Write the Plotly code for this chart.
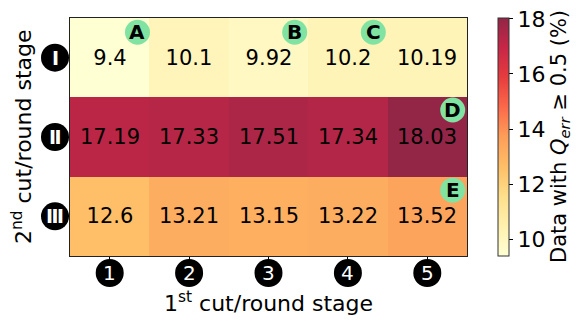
import plotly.graph_objects as go
import plotly.colors as pc

# data
first_stage = ["1", "2", "3", "4", "5"]
second_stage = ["Ⅰ", "Ⅱ", "Ⅲ"]
values_I = [9.4, 10.1, 9.92, 10.2, 10.19]
values_II = [17.19, 17.33, 17.51, 17.34, 18.03]
values_III = [12.6, 13.21, 13.15, 13.22, 13.52]
z = [values_I, values_II, values_III]

# marker labels (letter, column, row offset position)
mark_labels = ["A", "B", "C", "D", "E"]
mark_x = [0.35, 2.33, 3.32, 4.32, 4.32]
mark_y = [-0.32, -0.32, -0.32, 0.66, 1.67]

# YlOrRd blended with white at alpha 0.85 (like matplotlib alpha)
alpha = 0.85
base = pc.sequential.YlOrRd
scale = []
for i, c in enumerate(base):
    if c.startswith("#"):
        r, g, b = pc.hex_to_rgb(c)
    else:
        r, g, b = pc.unlabel_rgb(c)
    r = round(alpha * r + (1 - alpha) * 255)
    g = round(alpha * g + (1 - alpha) * 255)
    b = round(alpha * b + (1 - alpha) * 255)
    scale.append([i / (len(base) - 1), f"rgb({r},{g},{b})"])

FONT = "DejaVu Sans"

fig = go.Figure(go.Heatmap(
    z=z,
    x=list(range(len(first_stage))),
    y=list(range(len(second_stage))),
    colorscale=scale,
    zmin=9.4, zmax=18.03,
    text=[[str(v) for v in row] for row in z],
    texttemplate="%{text}",
    textfont=dict(family=FONT, size=21, color="black"),
    hoverinfo="skip",
    colorbar=dict(
        x=1.078, xanchor="left", xpad=0,
        y=0.5, len=1.0, lenmode="fraction", ypad=0,
        thickness=11,
        outlinecolor="#333", outlinewidth=1,
        ticks="outside", ticklen=4, tickcolor="black",
        tickvals=[10, 12, 14, 16, 18],
        ticklabeloverflow="allow",
        tickfont=dict(family=FONT, size=22, color="black"),
    ),
))

# page has an 8px body margin, so the figure is shrunk and shifted
fig.update_layout(
    width=573, height=316,
    margin=dict(l=62, r=114, t=10, b=68),
    plot_bgcolor="white", paper_bgcolor="white",
    showlegend=False,
)

fig.update_xaxes(
    range=[-0.5, 4.5],
    tickvals=list(range(len(first_stage))),
    showticklabels=False, automargin=False,
    ticks="outside", ticklen=4, tickcolor="black",
    showgrid=False, zeroline=False,
    showline=True, linecolor="#222", linewidth=1, mirror=True,
)
fig.update_yaxes(
    range=[2.5, -0.5],
    tickvals=list(range(len(second_stage))),
    showticklabels=False, automargin=False,
    ticks="outside", ticklen=4, tickcolor="black",
    showgrid=False, zeroline=False,
    showline=True, linecolor="#222", linewidth=1, mirror=True,
)

# axis titles
fig.add_annotation(x=0.5, y=0, xref="paper", yref="paper", yshift=-46,
                   xanchor="center", yanchor="middle", showarrow=False,
                   text="1<sup>st</sup> cut/round stage",
                   font=dict(family=FONT, size=22, color="black"))
fig.add_annotation(x=0, y=0.5, xref="paper", yref="paper", xshift=-48,
                   xanchor="center", yanchor="middle", showarrow=False,
                   textangle=-90,
                   text="2<sup>nd</sup> cut/round stage",
                   font=dict(family=FONT, size=22, color="black"))
fig.add_annotation(x=1, y=0.5, xref="paper", yref="paper", xshift=93,
                   xanchor="center", yanchor="middle", showarrow=False,
                   textangle=-90,
                   text="Data with <i>Q</i><sub><i>err</i></sub> ≥ 0.5 (%)",
                   font=dict(family=FONT, size=21, color="black"))

# black circled tick labels on x axis
for i, lab in enumerate(first_stage):
    fig.add_shape(type="circle", xref="x", yref="paper",
                  xsizemode="pixel", ysizemode="pixel",
                  xanchor=i, yanchor=0,
                  x0=-14, x1=14, y0=-31, y1=-3,
                  fillcolor="black", line=dict(color="black", width=0))
    fig.add_annotation(x=i, y=0, xref="x", yref="paper", yshift=-17,
                       xanchor="center", yanchor="middle",
                       text=lab, showarrow=False,
                       font=dict(family=FONT, size=20, color="white"))

# black circled tick labels on y axis
for j, lab in enumerate(second_stage):
    fig.add_shape(type="circle", xref="paper", yref="y",
                  xsizemode="pixel", ysizemode="pixel",
                  xanchor=0, yanchor=j,
                  x0=-29, x1=-1, y0=-14, y1=14,
                  fillcolor="black", line=dict(color="black", width=0))
    fig.add_annotation(x=0, y=j, xref="paper", yref="y", xshift=-15,
                       xanchor="center", yanchor="middle",
                       text=f"<b>{lab}</b>", showarrow=False,
                       font=dict(family=FONT, size=19, color="white"))

# green letter markers
for lab, mx, my in zip(mark_labels, mark_x, mark_y):
    fig.add_shape(type="circle", xref="x", yref="y",
                  xsizemode="pixel", ysizemode="pixel",
                  xanchor=mx, yanchor=my,
                  x0=-12.5, x1=12.5, y0=-12.5, y1=12.5,
                  fillcolor="#80e3a1", line=dict(width=0))
    fig.add_annotation(x=mx, y=my, xref="x", yref="y",
                       xanchor="center", yanchor="middle",
                       text=f"<b>{lab}</b>", showarrow=False,
                       font=dict(family=FONT, size=20, color="black"))

fig.write_html("out.html")
